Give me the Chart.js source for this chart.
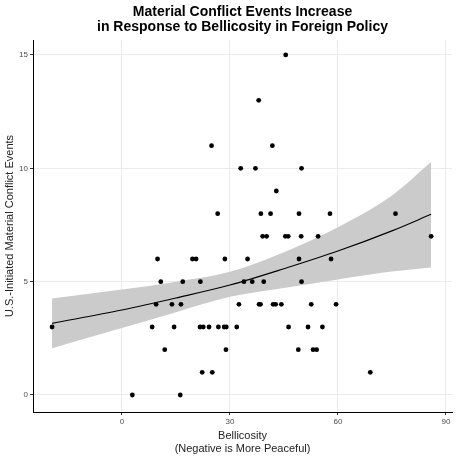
<!DOCTYPE html>
<html>
<head>
<meta charset="utf-8">
<script src="https://cdn.jsdelivr.net/npm/chart.js@4"></script>
<style>
  html, body { margin: 0; padding: 0; background: #fff; }
  #wrap { position: relative; width: 457px; height: 456px; }
</style>
</head>
<body>
<div id="wrap"><canvas id="myChart" width="457" height="456"></canvas></div>
<script>
// points (bellicosity, events)
const bellicosity = [-19.4, 2.9, 8.4, 9.5, 9.9, 10.8, 11.9, 13.9, 14.5, 16.2, 16.4, 16.9, 19.6, 20.6, 21.7, 21.8,
  22.3, 22.6, 24.2, 24.9, 25.1, 26.6, 26.8, 28.4, 28.6, 28.9, 29.0, 31.9, 32.5, 33.0, 33.9, 34.9, 36.2, 37.1,
  38.0, 38.1, 38.5, 38.6, 39.1, 39.4, 40.2, 41.3, 41.8, 42.0, 42.7, 42.9, 44.3, 45.4, 45.5, 46.2, 46.3, 49.0,
  49.2, 49.2, 49.8, 49.9, 49.9, 51.7, 52.6, 53.1, 54.1, 54.5, 55.7, 57.8, 58.1, 59.5, 69.0, 76.0, 85.9];
const events = [3, 0, 3, 4, 6, 5, 2, 4, 3, 0, 4, 5, 6, 6, 3, 5,
  1, 3, 3, 11, 1, 8, 3, 3, 6, 2, 3, 3, 4, 10, 5, 6, 5, 10,
  13, 4, 4, 8, 7, 5, 7, 8, 11, 4, 4, 9, 4, 7, 15, 7, 3, 2,
  8, 6, 7, 10, 5, 3, 4, 2, 2, 7, 3, 8, 6, 4, 1, 8, 7];

// fitted curve and its band, read at a few x positions
const fitX = [-19.4, 0, 15, 30, 45, 60, 75, 85.9];
const fitY = [3.16, 3.75, 4.28, 4.85, 5.57, 6.35, 7.24, 7.97];
const bandLow = [2.06, 2.95, 3.65, 4.33, 4.72, 5.1, 5.45, 5.63];
const bandHigh = [4.26, 4.65, 5.0, 5.44, 6.3, 7.4, 8.8, 10.28];

const xTicks = [0, 30, 60, 90];
const yTicks = [0, 5, 10, 15];

const titleLines = ['Material Conflict Events Increase', 'in Response to Bellicosity in Foreign Policy'];

const pts = (xs, ys) => xs.map((x, i) => ({ x: x, y: ys[i] }));

// title centred over the plot panel, like ggplot does
const panelTitle = {
  id: 'panelTitle',
  afterDraw(chart) {
    const c = chart.ctx;
    const mid = (chart.chartArea.left + chart.chartArea.right) / 2;
    c.save();
    c.fillStyle = '#000';
    c.font = 'bold 14px "Liberation Sans", Arial, sans-serif';
    c.textAlign = 'center';
    c.textBaseline = 'middle';
    titleLines.forEach((t, i) => c.fillText(t, mid, 12 + i * 15));
    c.restore();
  }
};

const tickFont = { family: '"Liberation Sans", Arial, sans-serif', size: 8 };
const axisFont = { family: '"Liberation Sans", Arial, sans-serif', size: 11 };

new Chart(document.getElementById('myChart'), {
  type: 'scatter',
  data: {
    datasets: [
      {
        data: pts(fitX, bandLow), order: 3,
        showLine: true, pointRadius: 0, borderWidth: 0,
        cubicInterpolationMode: 'monotone',
        backgroundColor: 'rgb(203,203,203)', fill: false
      },
      {
        data: pts(fitX, bandHigh), order: 3,
        showLine: true, pointRadius: 0, borderWidth: 0,
        cubicInterpolationMode: 'monotone',
        backgroundColor: 'rgb(203,203,203)', fill: '-1'
      },
      {
        data: pts(fitX, fitY), order: 2,
        showLine: true, pointRadius: 0, borderWidth: 1.1, borderColor: '#000',
        cubicInterpolationMode: 'monotone', fill: false
      },
      {
        data: pts(bellicosity, events), order: 1,
        pointRadius: 2.4, pointBackgroundColor: '#000', pointBorderWidth: 0
      }
    ]
  },
  options: {
    responsive: false,
    animation: false,
    layout: { padding: { top: 40, right: 5, left: 0, bottom: 0 } },
    plugins: { legend: { display: false }, tooltip: { enabled: false }, title: { display: false } },
    scales: {
      x: {
        type: 'linear', min: -24.7, max: 91.7,
        afterBuildTicks: s => { s.ticks = xTicks.map(v => ({ value: v })); },
        afterFit: s => { s.height = 44; },
        grid: { color: '#ebebeb', lineWidth: 1, tickColor: '#333', tickLength: 3 },
        border: { display: true, color: '#000', width: 1 },
        ticks: { font: tickFont, color: '#4d4d4d', padding: 2, maxRotation: 0 },
        title: {
          display: true, text: ['Bellicosity', '(Negative is More Peaceful)'],
          font: axisFont, color: '#222', padding: { top: 2, bottom: 0 }
        }
      },
      y: {
        type: 'linear', min: -0.75, max: 15.66,
        afterBuildTicks: s => { s.ticks = yTicks.map(v => ({ value: v })); },
        afterFit: s => { s.width = 33; },
        grid: { color: '#ebebeb', lineWidth: 1, tickColor: '#333', tickLength: 3 },
        border: { display: true, color: '#000', width: 1 },
        ticks: { font: tickFont, color: '#4d4d4d', padding: 2 },
        title: {
          display: true, text: 'U.S.-Initiated Material Conflict Events',
          font: axisFont, color: '#222', padding: { top: 3, bottom: 4 }
        }
      }
    }
  },
  plugins: [panelTitle]
});
</script>
</body>
</html>
